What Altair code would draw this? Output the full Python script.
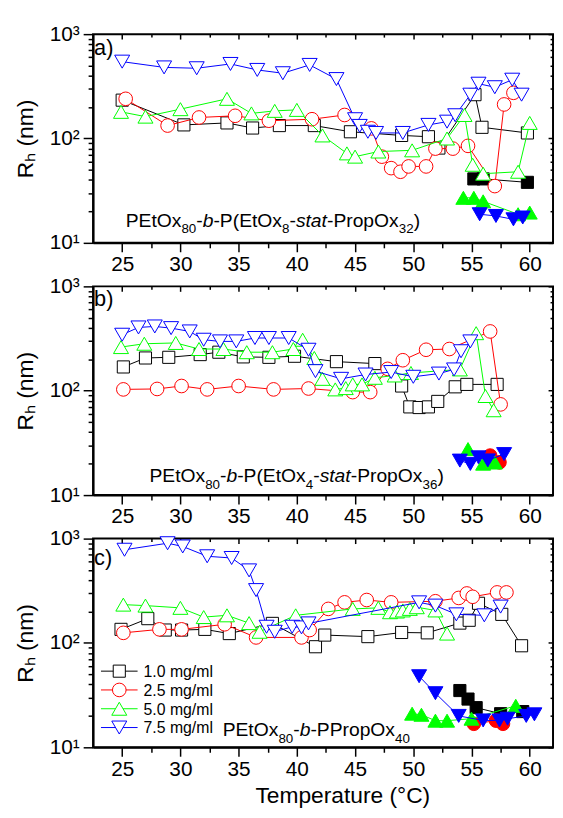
import altair as alt
import pandas as pd

SERIES = ["1.0 mg/ml", "2.5 mg/ml", "5.0 mg/ml", "7.5 mg/ml"]
COLORS = ["#000000", "#ff0000", "#00ff00", "#0000ff"]
SHAPES = ["square", "circle", "triangle-up", "triangle-down"]
SIZES = [150, 190, 230, 230]

# ---------------- panel a: PEtOx80-b-P(EtOx8-stat-PropOx32) ----------------
a_black_T = [25.0, 30.3, 34.0, 36.2, 38.5, 41.5, 44.6, 49.0, 51.3, 52.2, 55.3, 55.9, 59.8]
a_black_R = [233, 135, 141, 126, 133, 133, 116, 107, 104, 81, 263, 128, 113]
a_black_fT = [55.2, 56.0, 59.8]
a_black_fR = [41, 41, 38]
a_red_T = [25.3, 28.9, 31.6, 34.7, 37.6, 41.3, 44.1, 46.4, 47.3, 48.1, 48.9, 49.6, 51.1, 51.9, 53.4, 54.7, 57.0, 57.8, 58.6]
a_red_R = [240, 133, 159, 165, 148, 153, 168, 125, 67, 52, 48, 54, 54, 80, 80, 85, 35, 212, 274]
a_red_fT = []
a_red_fR = []
a_green_T = [24.9, 27.0, 30.0, 34.0, 36.1, 38.1, 40.0, 42.2, 44.3, 45.0, 47.0, 49.9, 52.9, 54.4, 55.1, 56.0, 59.0, 60.0]
a_green_R = [180, 162, 191, 240, 174, 184, 188, 107, 72, 67, 75, 77, 100, 168, 56, 46, 48, 141]
a_green_fT = [54.3, 55.2, 56.0, 59.0, 60.0]
a_green_fR = [27, 27, 25, 18.8, 19.5]
a_blue_T = [25.0, 28.6, 31.4, 34.3, 36.6, 38.8, 41.1, 43.4, 45.0, 45.4, 46.1, 46.8, 49.1, 51.3, 52.9, 53.6, 54.9, 55.6, 57.0, 58.5, 59.3]
a_blue_R = [545, 480, 471, 518, 454, 422, 507, 371, 153, 132, 116, 113, 113, 135, 145, 167, 263, 335, 310, 366, 263]
a_blue_fT = [55.7, 57.1, 58.6, 59.4]
a_blue_fR = [18.8, 18.1, 16.8, 17.5]

# ---------------- panel b: PEtOx80-b-P(EtOx4-stat-PropOx36) ----------------
b_black_T = [25.1, 27.0, 29.0, 31.7, 33.3, 35.4, 37.6, 39.8, 43.4, 46.7, 49.0, 49.7, 50.5, 51.3, 52.1, 53.6, 54.6, 57.2]
b_black_R = [169, 206, 209, 222, 234, 211, 209, 214, 190, 182, 111, 70, 69, 70, 79, 109, 115, 115]
b_black_fT = []
b_black_fR = []
b_red_T = [25.1, 28.0, 30.1, 32.3, 35.0, 38.0, 41.0, 44.8, 46.3, 47.8, 49.1, 51.1, 53.1, 56.6, 57.5]
b_red_R = [103, 104, 111, 103, 111, 103, 105, 97, 97, 162, 196, 247, 251, 370, 74]
b_red_fT = [56.6, 57.4]
b_red_fR = [23.9, 20.6]
b_green_T = [24.9, 26.9, 29.6, 31.6, 33.7, 35.7, 37.9, 39.7, 40.5, 41.5, 42.2, 43.3, 44.2, 44.8, 45.6, 46.7, 48.4, 49.8, 54.0, 55.4, 56.2, 56.9]
b_green_R = [262, 282, 287, 251, 251, 234, 234, 251, 308, 206, 130, 103, 106, 115, 115, 133, 140, 148, 160, 356, 89, 65]
b_green_fT = [54.7, 56.0, 57.0]
b_green_fR = [27.6, 20, 20.5]
b_blue_T = [25.0, 26.4, 27.8, 29.2, 30.8, 32.0, 33.4, 34.8, 36.4, 37.6, 39.3, 41.0, 41.6, 43.8, 45.9, 48.1, 50.0, 52.2, 53.5, 54.1, 54.9]
b_blue_R = [344, 404, 413, 398, 370, 308, 297, 297, 320, 320, 320, 247, 154, 130, 143, 151, 136, 146, 160, 239, 297]
b_blue_fT = [54.0, 54.9, 55.6, 56.4, 57.8]
b_blue_fR = [21.4, 19.9, 23, 21.5, 24.7]

# ---------------- panel c: PEtOx80-b-PPropOx40 ----------------
c_black_T = [24.9, 27.2, 28.7, 30.1, 32.1, 34.2, 37.9, 41.6, 42.4, 46.1, 49.0, 51.2, 54.0, 54.8, 55.6, 57.6, 59.3]
c_black_R = [135, 171, 133, 133, 135, 123, 154, 92, 119, 115, 126, 125, 155, 165, 240, 188, 94]
c_black_fT = [54.0, 54.7, 55.4, 57.5, 59.4]
c_black_fR = [35, 29, 24, 21, 22]
c_red_T = [25.1, 28.2, 30.1, 33.8, 36.5, 40.4, 41.1, 42.7, 44.1, 46.0, 48.1, 51.9, 53.9, 54.6, 55.1, 57.2, 58.0]
c_red_R = [125, 135, 135, 151, 113, 113, 133, 212, 245, 258, 245, 251, 270, 298, 277, 305, 305]
c_red_fT = [55.2, 57.1, 57.7]
c_red_fR = [16.8, 18, 16.8]
c_green_T = [25.1, 27.0, 30.0, 32.0, 34.0, 35.9, 36.8, 39.9, 44.8, 47.0, 48.0, 48.6, 49.1, 49.7, 50.3, 51.9, 52.9]
c_green_R = [233, 228, 217, 177, 184, 155, 128, 184, 212, 217, 197, 200, 205, 212, 220, 205, 123]
c_green_fT = [49.9, 50.7, 51.9, 52.9, 55.0, 58.8]
c_green_fR = [21, 20.5, 18, 18, 18.8, 25]
c_blue_T = [25.2, 28.9, 30.2, 32.3, 34.4, 35.9, 36.5, 37.4, 38.1, 39.6, 40.4, 41.0, 50.5, 51.9, 53.7, 56.1, 57.5]
c_blue_R = [782, 903, 841, 677, 652, 496, 321, 143, 128, 143, 141, 154, 245, 228, 188, 184, 223]
c_blue_fT = [50.5, 51.9, 53.9, 56.0, 57.4, 58.1, 59.7, 60.4]
c_blue_fR = [48, 33, 20, 18.1, 18.1, 18.8, 20, 20.7]

X_TICKS = [25 + 2.5 * i for i in range(15)]
Y_TICKS = [10 * k for k in range(1, 10)] + [100 * k for k in range(1, 10)] + [1000]

FONT = "Liberation Sans"
W, H = 465, 211

WIDTHS = {'P': 667, 'E': 667, 't': 278, 'O': 778, 'x': 500, '-': 333, 'b': 556, '(': 333,
          ')': 333, 's': 500, 'a': 556, 'r': 333, 'o': 556, 'p': 556}


def text_width(s, size):
    return sum(WIDTHS.get(ch, 556) for ch in s) * size / 1000.0


def build_df(prefix):
    g = globals()
    rows = []
    for name, key in zip(SERIES, ["black", "red", "green", "blue"]):
        for filled, suf in [(False, ""), (True, "f")]:
            T = g[f"{prefix}_{key}_{suf}T"]
            R = g[f"{prefix}_{key}_{suf}R"]
            for t, r in zip(T, R):
                rows.append({"T": t, "R": r, "series": name, "filled": filled})
    return pd.DataFrame(rows)


major_x = "datum.value % 5 === 0"
major_y = "datum.value === 10 || datum.value === 100 || datum.value === 1000"
y_label_expr = ("datum.value === 10 ? '10\u00b9' : datum.value === 100 ? '10\u00b2' : "
                "datum.value === 1000 ? '10\u00b3' : ''")

XSCALE = alt.Scale(domain=[22.5, 62], nice=False, zero=False)
YSCALE = alt.Scale(type="log", domain=[10, 1000], nice=False)


def x_enc(title):
    kw = dict(values=X_TICKS, labelExpr=f"{major_x} ? datum.label : ''",
              tickSize={"condition": {"test": major_x, "value": 9}, "value": 5},
              labelPadding=2, labelFlush=False, title=title, orient="bottom")
    if title:
        kw.update(titleX=252, titlePadding=6)
    return alt.X("T:Q", scale=XSCALE, axis=alt.Axis(**kw))


def y_enc():
    return alt.Y("R:Q", scale=YSCALE, axis=alt.Axis(
        values=Y_TICKS, labelExpr=y_label_expr, orient="left",
        tickSize={"condition": {"test": major_y, "value": 10}, "value": 5},
        title="R\u2095 (nm)", titlePadding=12, labelPadding=4))


def annotation(segments, x0, y0, size=19.5, sub_size=13.5, sub_shift=6.5):
    layers = []
    x = x0
    for txt, style in segments:
        if style == "sub":
            fs, yy, st = sub_size, y0 + sub_shift, "normal"
        else:
            fs, yy, st = size, y0, ("italic" if style == "i" else "normal")
        layers.append(
            alt.Chart(alt.Data(values=[{}])).mark_text(
                align="left", baseline="alphabetic", font=FONT, fontSize=fs,
                fontStyle=st, color="black"
            ).encode(x=alt.value(x), y=alt.value(yy), text=alt.value(txt))
        )
        x += text_width(txt, fs)
    return layers


def panel(prefix, label, label_y, segs, seg_x, seg_y, xtitle=None, legend=False):
    df = build_df(prefix)
    data_layers = []
    for name, color, shape, size in zip(SERIES, COLORS, SHAPES, SIZES):
        for filled in (False, True):
            d = df[(df.series == name) & (df.filled == filled)]
            if d.empty:
                continue
            data_layers.append(alt.Chart(d).mark_line(color=color, strokeWidth=1).encode(
                x=x_enc(xtitle), y=y_enc()))
            data_layers.append(alt.Chart(d).mark_point(
                shape=shape, size=size, filled=True,
                fill=(color if filled else "white"), stroke=color, strokeWidth=1, opacity=1
            ).encode(x=x_enc(xtitle), y=y_enc()))
    data_group = alt.layer(*data_layers)
    # mirror axes (top / right, inward ticks)
    mirror = alt.Chart(df).mark_point(opacity=0).encode(
        x=alt.X("T:Q", scale=XSCALE, axis=alt.Axis(
            orient="bottom", offset=-H, labels=False, title=None, domain=False, values=X_TICKS,
            tickSize={"condition": {"test": major_x, "value": 5}, "value": 3})),
        y=alt.Y("R:Q", scale=YSCALE, axis=alt.Axis(
            orient="left", offset=-W, labels=False, title=None, domain=False, values=Y_TICKS,
            tickSize={"condition": {"test": major_y, "value": 5}, "value": 3})),
    )
    extra = []
    extra.append(alt.Chart(alt.Data(values=[{}])).mark_text(
        align="left", baseline="alphabetic", font=FONT, fontSize=22, color="black"
    ).encode(x=alt.value(1), y=alt.value(label_y), text=alt.value(label)))
    extra += annotation(segs, seg_x, seg_y)
    if legend:
        for i, (name, color, shape, size) in enumerate(zip(SERIES, COLORS, SHAPES, SIZES)):
            yy = 134 + 19 * i
            one = alt.Data(values=[{}])
            extra.append(alt.Chart(one).mark_rule(color=color, strokeWidth=1).encode(
                x=alt.value(8), x2=alt.value(45), y=alt.value(yy)))
            extra.append(alt.Chart(one).mark_point(
                shape=shape, size=size, filled=True, fill="white", stroke=color,
                strokeWidth=1, opacity=1).encode(x=alt.value(26.5), y=alt.value(yy)))
            extra.append(alt.Chart(one).mark_text(
                align="left", baseline="middle", font=FONT, fontSize=16, color="black"
            ).encode(x=alt.value(51), y=alt.value(yy + 1), text=alt.value(name)))
    return alt.layer(data_group, mirror, *extra).resolve_axis(
        x="independent", y="independent").properties(width=W, height=H)


seg_a = [("PEtOx", "n"), ("80", "sub"), ("-", "n"), ("b", "i"), ("-P(EtOx", "n"), ("8", "sub"),
         ("-", "n"), ("stat", "i"), ("-PropOx", "n"), ("32", "sub"), (")", "n")]
seg_b = [("PEtOx", "n"), ("80", "sub"), ("-", "n"), ("b", "i"), ("-P(EtOx", "n"), ("4", "sub"),
         ("-", "n"), ("stat", "i"), ("-PropOx", "n"), ("36", "sub"), (")", "n")]
seg_c = [("PEtOx", "n"), ("80", "sub"), ("-", "n"), ("b", "i"), ("-PPropOx", "n"), ("40", "sub")]

pa = panel("a", "a)", 21, seg_a, 33, 195)
pb = panel("b", "b)", 20, seg_b, 57, 198)
pc = panel("c", "c)", 27, seg_c, 131, 200, xtitle="Temperature (\u00b0C)", legend=True)

chart = alt.vconcat(pa, pb, pc, spacing=44, bounds="flush").properties(
    padding={"left": 5, "top": 10, "right": 0, "bottom": 2}
).configure_view(stroke="black", strokeWidth=2).configure_axis(
    labelFont=FONT, labelFontSize=21, labelColor="black",
    titleFont=FONT, titleFontSize=23, titleFontWeight="normal", titleColor="black",
    domainColor="black", domainWidth=2, tickColor="black", tickWidth=1.5, grid=False
)

chart.save("out.html", embed_options={"renderer": "svg", "actions": False})
